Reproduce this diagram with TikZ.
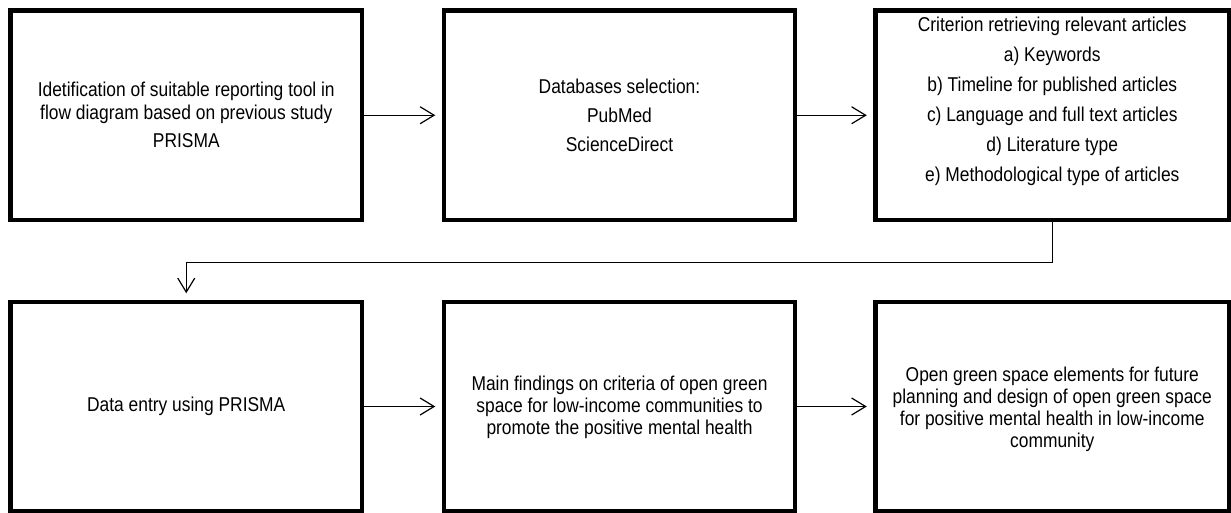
\documentclass[tikz,border=0pt]{standalone}
\usepackage{fontspec}
\setmainfont{Liberation Sans}
\newfontfamily\narrowsans[FakeStretch=0.87]{Liberation Sans}
\usetikzlibrary{arrows.meta}
\begin{document}
\begin{tikzpicture}[x=1pt,y=-1pt,
  stepbox/.style={draw=black, line width=4.5pt, inner sep=0pt, minimum width=351.5pt, minimum height=209.5pt},
  txt/.style={align=center, inner sep=0pt, text=black},
  conn/.style={line width=1.2pt, -{Straight Barb[length=14pt,width=17pt,line width=1.2pt]}, shorten >=6.5pt}]
\useasboundingbox (0,0) rectangle (1231,513);
% boxes
\node[stepbox] (b1) at (186.25,115.25) {};
\node[stepbox, minimum width=351pt] (b2) at (619.5,115.25) {};
\node[stepbox, minimum width=353.5pt] (b3) at (1052.25,115.25) {};
\node[stepbox, minimum height=209pt] (b4) at (186.25,406.5) {};
\node[stepbox, minimum width=351pt, minimum height=209pt] (b5) at (619.5,406.5) {};
\node[stepbox, minimum width=353.5pt, minimum height=209pt] (b6) at (1052.25,406.5) {};
% texts
\node[txt, font=\narrowsans\fontsize{20}{23}\selectfont] (t1) at (b1.center)
  {Idetification of suitable reporting tool in\\flow diagram based on previous study\\[5pt]PRISMA};
\node[txt, font=\narrowsans\fontsize{20}{29}\selectfont] (t2) at (b2.center)
  {Databases selection:\\PubMed\\ScienceDirect};
\node[txt, font=\narrowsans\fontsize{20}{30}\selectfont] (t3) at ([yshift=14pt]b3.center)
  {Criterion retrieving relevant articles\\a) Keywords\\b) Timeline for published articles\\c) Language and full text articles\\d) Literature type\\e) Methodological type of articles};
\node[txt, font=\narrowsans\fontsize{20}{22}\selectfont] (t4) at (b4.center)
  {Data entry using PRISMA};
\node[txt, font=\narrowsans\fontsize{20}{22}\selectfont] (t5) at ([yshift=-1pt]b5.center)
  {Main findings on criteria of open green\\space for low-income communities to\\promote the positive mental health};
\node[txt, font=\narrowsans\fontsize{20}{22}\selectfont] (t6) at ([yshift=-3pt]b6.center)
  {Open green space elements for future\\planning and design of open green space\\for positive mental health in low-income\\community};
% connectors
\draw[conn] (b1.east) -- (b2.west);
\draw[conn] (b2.east) -- (b3.west);
\draw[conn] (b3.south) -- ++(0,40) -| (b4.north);
\draw[conn] (b4.east) -- (b5.west);
\draw[conn] (b5.east) -- (b6.west);
\end{tikzpicture}
\end{document}
